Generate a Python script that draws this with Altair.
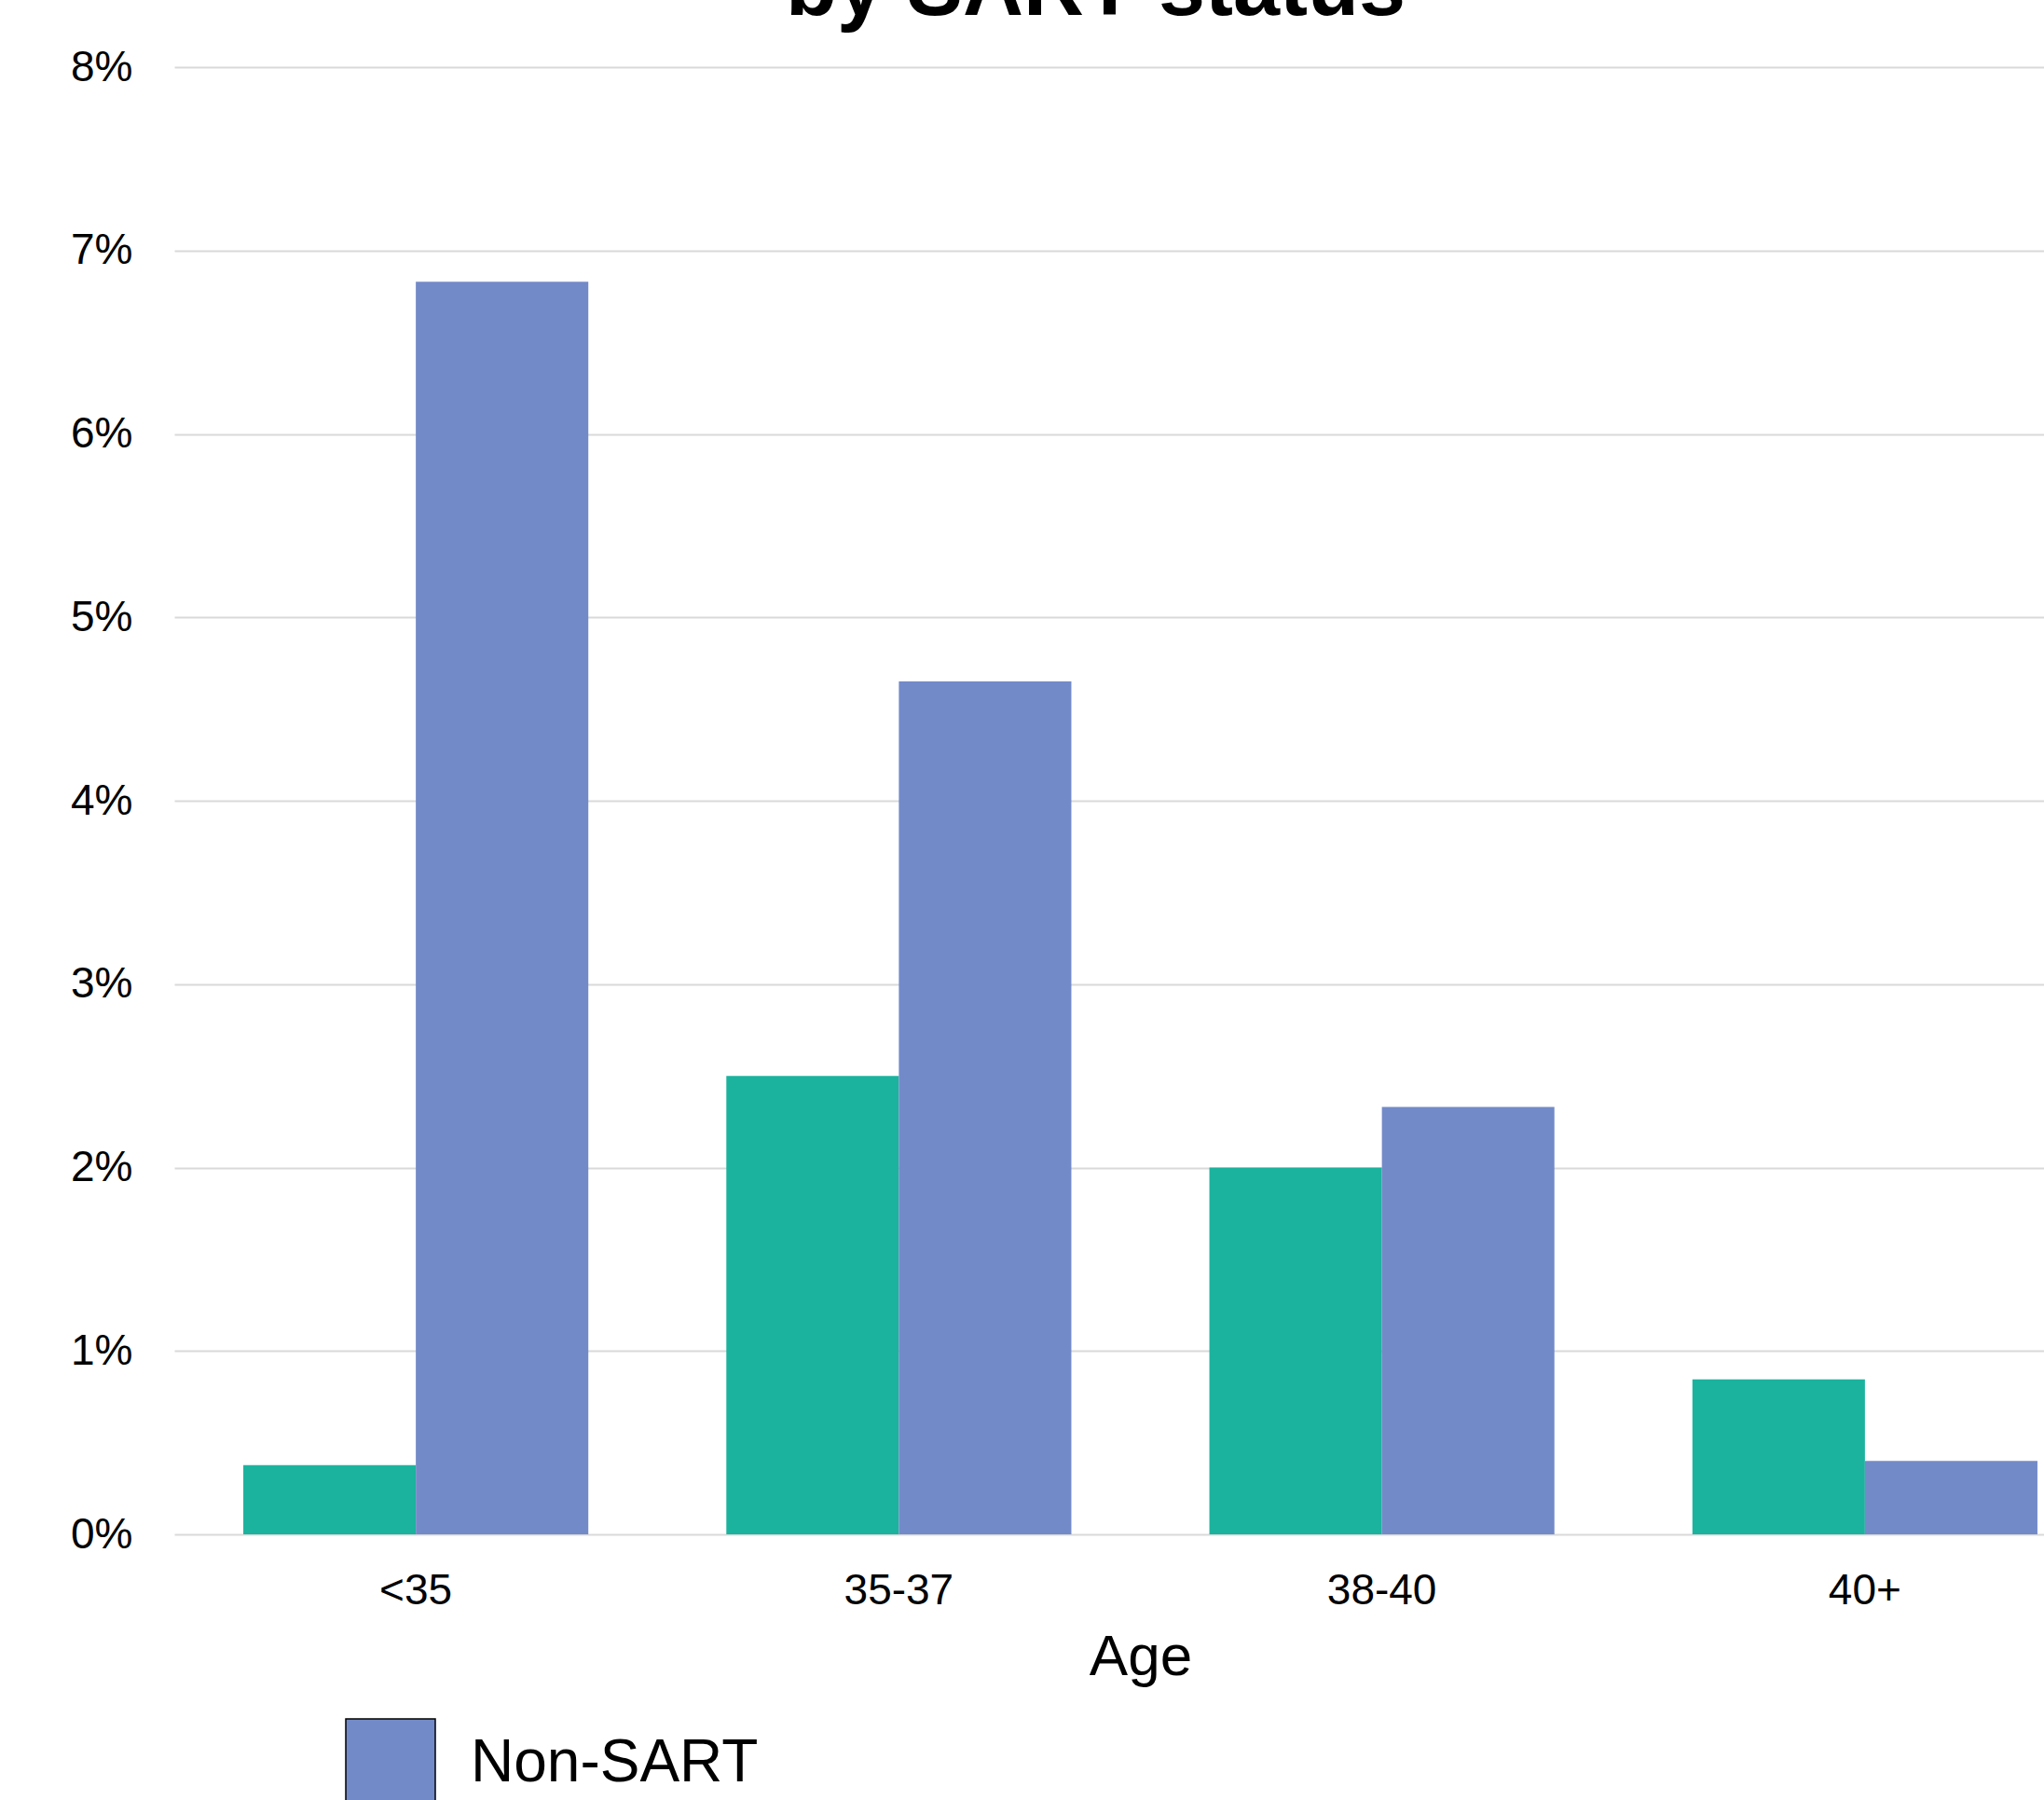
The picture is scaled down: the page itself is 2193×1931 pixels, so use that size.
import altair as alt
import pandas as pd

ages = ["<35", "35-37", "38-40", "40+"]
statuses = ["SART", "Non-SART"]
sart_values = [0.377, 2.50, 2.00, 0.845]
non_sart_values = [6.83, 4.65, 2.33, 0.40]
colors = ["#1bb39e", "#738ac8"]
y_ticks = [0, 0.01, 0.02, 0.03, 0.04, 0.05, 0.06, 0.07, 0.08]

rows = []
for a, s, n in zip(ages, sart_values, non_sart_values):
    rows.append({"Age": a, "Status": "SART", "Value": s / 100})
    rows.append({"Age": a, "Status": "Non-SART", "Value": n / 100})
df = pd.DataFrame(rows)

FONT = "Liberation Sans"

chart = alt.Chart(df).mark_bar().encode(
    x=alt.X("Age:N", sort=ages, scale=alt.Scale(paddingInner=0, paddingOuter=0),
            axis=alt.Axis(title="Age", labelAngle=0, labelFontSize=46, labelColor="black",
                          labelPadding=38, ticks=False, domain=False, titleFontSize=62,
                          titleFontWeight="normal", titleColor="black", titlePadding=18,
                          labelFont=FONT, titleFont=FONT, grid=False)),
    xOffset=alt.XOffset("Status:N", sort=statuses,
                        scale=alt.Scale(paddingInner=0, paddingOuter=0.4)),
    y=alt.Y("Value:Q", scale=alt.Scale(domain=[0, 0.08], nice=False),
            axis=alt.Axis(title=None, values=y_ticks, format=".0%", labelFontSize=46,
                          labelColor="black", labelPadding=45, ticks=False, domain=False,
                          gridColor="#d9d9d9", gridWidth=2, labelFont=FONT)),
    color=alt.Color("Status:N", sort=statuses,
                    scale=alt.Scale(domain=statuses, range=colors),
                    legend=alt.Legend(title=None, orient="none", direction="horizontal",
                                      legendX=-495, legendY=1771, symbolType="square",
                                      symbolSize=9216, symbolStrokeColor="black",
                                      symbolStrokeWidth=1.5, symbolOpacity=1,
                                      labelFontSize=64, labelFont=FONT, labelColor="black",
                                      labelOffset=37, columnPadding=371, padding=0,
                                      labelLimit=2000)),
).properties(
    width=2073,
    height=1574,
    title=alt.TitleParams(text="by SART status", fontSize=90, fontWeight="bold", font=FONT,
                          color="black", anchor="middle", frame="group", dx=-48, offset=14),
    autosize=alt.AutoSizeParams(type="none"),
    padding={"left": 187, "top": 72, "right": -67, "bottom": 285},
).configure(background="white").configure_view(strokeWidth=0, stroke="transparent")

chart.save("out.html", embed_options={"renderer": "svg", "actions": False})
